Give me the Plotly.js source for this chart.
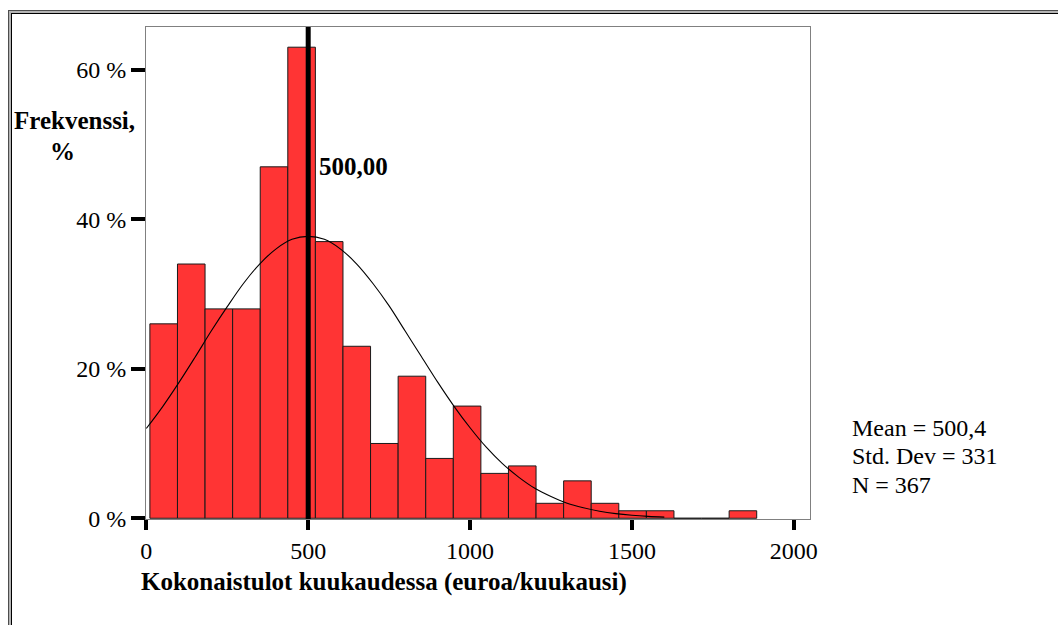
<!DOCTYPE html>
<html>
<head>
<meta charset="utf-8">
<script src="https://cdn.plot.ly/plotly-3.0.1.min.js"></script>
<style>
html,body{margin:0;padding:0;background:#fff;overflow:hidden;}
#chart{position:absolute;left:0;top:0;width:1058px;height:625px;}
#f1{position:absolute;left:8px;top:10px;width:2000px;height:2000px;border-left:1px solid #4d4d4d;border-top:1px solid #4d4d4d;pointer-events:none;}
#f2{position:absolute;left:0;top:0;width:1990px;height:1990px;border-left:2px solid #b4b4b4;border-top:2px solid #b4b4b4;}
#f3{position:absolute;left:0;top:0;width:1980px;height:1980px;border-left:1.5px solid #000;border-top:1.5px solid #000;}
</style>
</head>
<body>
<div id="chart"></div>
<div id="f1"><div id="f2"><div id="f3"></div></div></div>
<script>
// Histogram bins (income, euro/month) and counts
const binCenters = [53.6, 138.8, 224, 309.2, 394.4, 479.6, 564.8, 650, 735.2, 820.4, 905.6, 990.8, 1076, 1161.2, 1246.4, 1331.6, 1416.8, 1502, 1587.2, 1672.4, 1757.6, 1842.8];
const binWidth = 85.2;
const counts = [26, 34, 28, 28, 47, 63, 37, 23, 10, 19, 8, 15, 6, 7, 2, 5, 2, 1, 1, 0, 0, 1];

// Fitted normal curve
const curveX = [0, 50, 100, 150, 200, 250, 300, 350, 400, 450, 500, 550, 600, 650, 700, 750, 800, 850, 900, 950, 1000, 1050, 1100, 1150, 1200, 1250, 1300, 1350, 1400, 1450, 1500, 1550, 1600];
const curveY = [12.0, 14.9, 18.1, 21.5, 25.0, 28.3, 31.4, 34.0, 36.0, 37.3, 37.7, 37.3, 36.0, 34.0, 31.4, 28.4, 25.0, 21.6, 18.2, 15.0, 12.1, 9.5, 7.3, 5.5, 4.0, 2.9, 2.0, 1.4, 0.94, 0.62, 0.40, 0.25, 0.15];

// Axis ticks
const xTickVals = [0, 500, 1000, 1500, 2000];
const xTickText = ['0', '500', '1000', '1500', '2000'];
const yTickVals = [0, 20, 40, 60];
const yTickText = ['0 %', '20 %', '40 %', '60 %'];

// Reference line and stats
const medianValue = 500;
const medianLabel = '500,00';
const statsLines = ['Mean = 500,4', 'Std. Dev = 331', 'N = 367'];
const xTitle = 'Kokonaistulot kuukaudessa (euroa/kuukausi)';
const yTitleLines = ['Frekvenssi,', '%'];

const serif = 'Liberation Serif, Times New Roman, serif';

const traces = [
  {
    type: 'bar',
    x: binCenters,
    y: counts,
    width: binWidth,
    marker: {color: '#ff3434', line: {color: '#1a1a1a', width: 1}},
    hoverinfo: 'x+y'
  },
  {
    type: 'scatter',
    mode: 'lines',
    x: curveX,
    y: curveY,
    line: {color: '#000', width: 1.1, shape: 'spline'},
    hoverinfo: 'skip'
  }
];

const plotL = 146, plotR = 810, plotT = 27, plotB = 519.5;
const pw = plotR - plotL, ph = plotB - plotT;
function px(x){ return (x - plotL) / pw; }
function py(y){ return (plotB - y) / ph; }

const annotations = [
  {text: '<b>' + medianLabel + '</b>', xref: 'paper', yref: 'paper', x: px(317), y: py(167), xanchor: 'left', yanchor: 'middle', showarrow: false, font: {family: serif, size: 25, color: '#000'}},
  {text: '<b>' + yTitleLines[0] + '</b>', xref: 'paper', yref: 'paper', x: px(74), y: py(121), xanchor: 'center', yanchor: 'middle', showarrow: false, font: {family: serif, size: 25, color: '#000'}},
  {text: '<b>' + yTitleLines[1] + '</b>', xref: 'paper', yref: 'paper', x: px(62.5), y: py(152), xanchor: 'center', yanchor: 'middle', showarrow: false, font: {family: serif, size: 25, color: '#000'}},
  {text: '<b>' + xTitle + '</b>', xref: 'paper', yref: 'paper', x: px(384), y: py(583), xanchor: 'center', yanchor: 'middle', showarrow: false, font: {family: serif, size: 25, color: '#000'}}
];
const statY = [428, 456.5, 485.5];
statsLines.forEach((t, i) => {
  annotations.push({text: t, xref: 'paper', yref: 'paper', x: px(850), y: py(statY[i]), xanchor: 'left', yanchor: 'middle', showarrow: false, font: {family: serif, size: 24, color: '#000'}});
});

const layout = {
  width: 1058,
  height: 625,
  margin: {l: plotL, r: 1058 - plotR, t: plotT, b: 625 - plotB},
  paper_bgcolor: '#fff',
  plot_bgcolor: '#fff',
  showlegend: false,
  bargap: 0,
  xaxis: {
    range: [-1, 2050],
    tickvals: xTickVals,
    ticktext: xTickText,
    ticks: 'outside',
    ticklen: 10,
    tickwidth: 4,
    tickcolor: '#000',
    showgrid: false,
    zeroline: false,
    showline: true,
    linecolor: '#808080',
    linewidth: 1,
    mirror: true,
    tickfont: {family: serif, size: 24, color: '#000'}
  },
  yaxis: {
    range: [-0.1, 65.7],
    tickvals: yTickVals,
    ticktext: yTickText,
    ticks: 'outside',
    ticklen: 14,
    tickwidth: 4,
    tickcolor: '#000',
    showgrid: false,
    zeroline: false,
    showline: true,
    linecolor: '#808080',
    linewidth: 1,
    mirror: true,
    tickfont: {family: serif, size: 24, color: '#000'}
  },
  shapes: [
    {type: 'line', xref: 'x', yref: 'paper', x0: medianValue, x1: medianValue, y0: 0, y1: 1, line: {color: '#000', width: 5}, layer: 'above'}
  ],
  annotations: annotations
};

Plotly.newPlot('chart', traces, layout, {displayModeBar: false, staticPlot: true});
</script>
</body>
</html>
